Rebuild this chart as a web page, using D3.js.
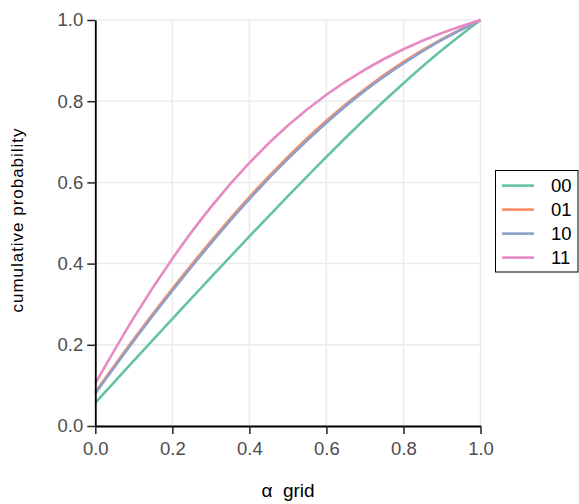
<!DOCTYPE html>
<html><head><meta charset="utf-8">
<script src="https://cdn.jsdelivr.net/npm/d3@7"></script>
<style>body{margin:0;background:#fff}svg{display:block}</style>
</head><body>
<svg id="c" width="579" height="504"></svg>
<script>
const alphaGrid = [0,0.1,0.2,0.3,0.4,0.5,0.6,0.7,0.8,0.9,1.0];
const series00 = [0.057,0.161,0.264,0.366,0.467,0.566,0.663,0.756,0.844,0.926,1.0];
const series01 = [0.083,0.214,0.338,0.455,0.564,0.663,0.752,0.830,0.897,0.953,1.0];
const series10 = [0.080,0.210,0.333,0.450,0.559,0.658,0.747,0.826,0.893,0.951,1.0];
const series11 = [0.105,0.267,0.412,0.539,0.648,0.740,0.816,0.878,0.928,0.968,1.0];
const seriesNames = ["00","01","10","11"];
const seriesColors = ["#66c2a5","#fc8d62","#8da0cb","#e78ac3"];
const tickValues = [0,0.2,0.4,0.6,0.8,1.0];

const FONT = "'Liberation Sans',Arial,sans-serif";
const svg = d3.select("#c");
const x = d3.scaleLinear().domain([0,1]).range([95.3,480.5]);
const y = d3.scaleLinear().domain([0,1]).range([426,20]);

// grid
const g = svg.append("g");
g.selectAll(".gx").data(tickValues).join("line")
  .attr("x1",d=>x(d)).attr("x2",d=>x(d)).attr("y1",y(0)).attr("y2",y(1))
  .attr("stroke","#ebebeb").attr("stroke-width",1.5);
g.selectAll(".gy").data(tickValues).join("line")
  .attr("y1",d=>y(d)).attr("y2",d=>y(d)).attr("x1",x(0)).attr("x2",x(1))
  .attr("stroke","#ebebeb").attr("stroke-width",1.5);

// lines
const allSeries = [series00,series01,series10,series11];
const line = d3.line().x(d=>x(d[0])).y(d=>y(d[1])).curve(d3.curveNatural);
allSeries.forEach((s,i)=>{
  svg.append("path").datum(alphaGrid.map((a,j)=>[a,s[j]]))
    .attr("d",line).attr("fill","none").attr("stroke",seriesColors[i])
    .attr("stroke-width",2.6);
});

// axes
const fmt = d3.format(".1f");
const xa = svg.append("g").attr("transform",`translate(0,${y(0)})`)
  .call(d3.axisBottom(x).tickValues(tickValues).tickFormat(fmt).tickSize(8).tickPadding(5).tickSizeOuter(0));
const ya = svg.append("g").attr("transform",`translate(${x(0)},0)`)
  .call(d3.axisLeft(y).tickValues(tickValues).tickFormat(fmt).tickSize(8).tickPadding(4).tickSizeOuter(0));
[xa,ya].forEach(a=>{
  a.select(".domain").attr("stroke","#000").attr("stroke-width",1.8);
  a.selectAll(".tick line").attr("stroke","#222").attr("stroke-width",1.5);
  a.selectAll(".tick text").attr("fill","#4d4d4d").style("font-family",FONT).style("font-size","18.5px");
});
xa.selectAll(".tick text").attr("dy","0.85em");

svg.append("text").attr("x",288).attr("y",497).attr("text-anchor","middle")
  .style("font-family",FONT).style("font-size","19px").attr("fill","#000")
  .style("white-space","pre").attr("xml:space","preserve")
  .text("α  grid");
svg.append("text").attr("transform","translate(23,220.5) rotate(-90)").attr("text-anchor","middle")
  .style("font-family",FONT).style("font-size","17px").attr("fill","#000")
  .attr("textLength",184).attr("lengthAdjust","spacing")
  .text("cumulative probability");

// legend
const lg = svg.append("g");
lg.append("rect").attr("x",495.5).attr("y",170.5).attr("width",82.5).attr("height",101.5)
  .attr("fill","#fff").attr("stroke","#000").attr("stroke-width",1);
seriesNames.forEach((n,i)=>{
  const yy = 185.6 + i*24;
  lg.append("line").attr("x1",502).attr("x2",534).attr("y1",yy).attr("y2",yy)
    .attr("stroke",seriesColors[i]).attr("stroke-width",2.6);
  lg.append("text").attr("x",551).attr("y",yy+6.6).text(n)
    .style("font-family",FONT).style("font-size","18.5px").attr("fill","#000");
});
</script>
</body></html>
